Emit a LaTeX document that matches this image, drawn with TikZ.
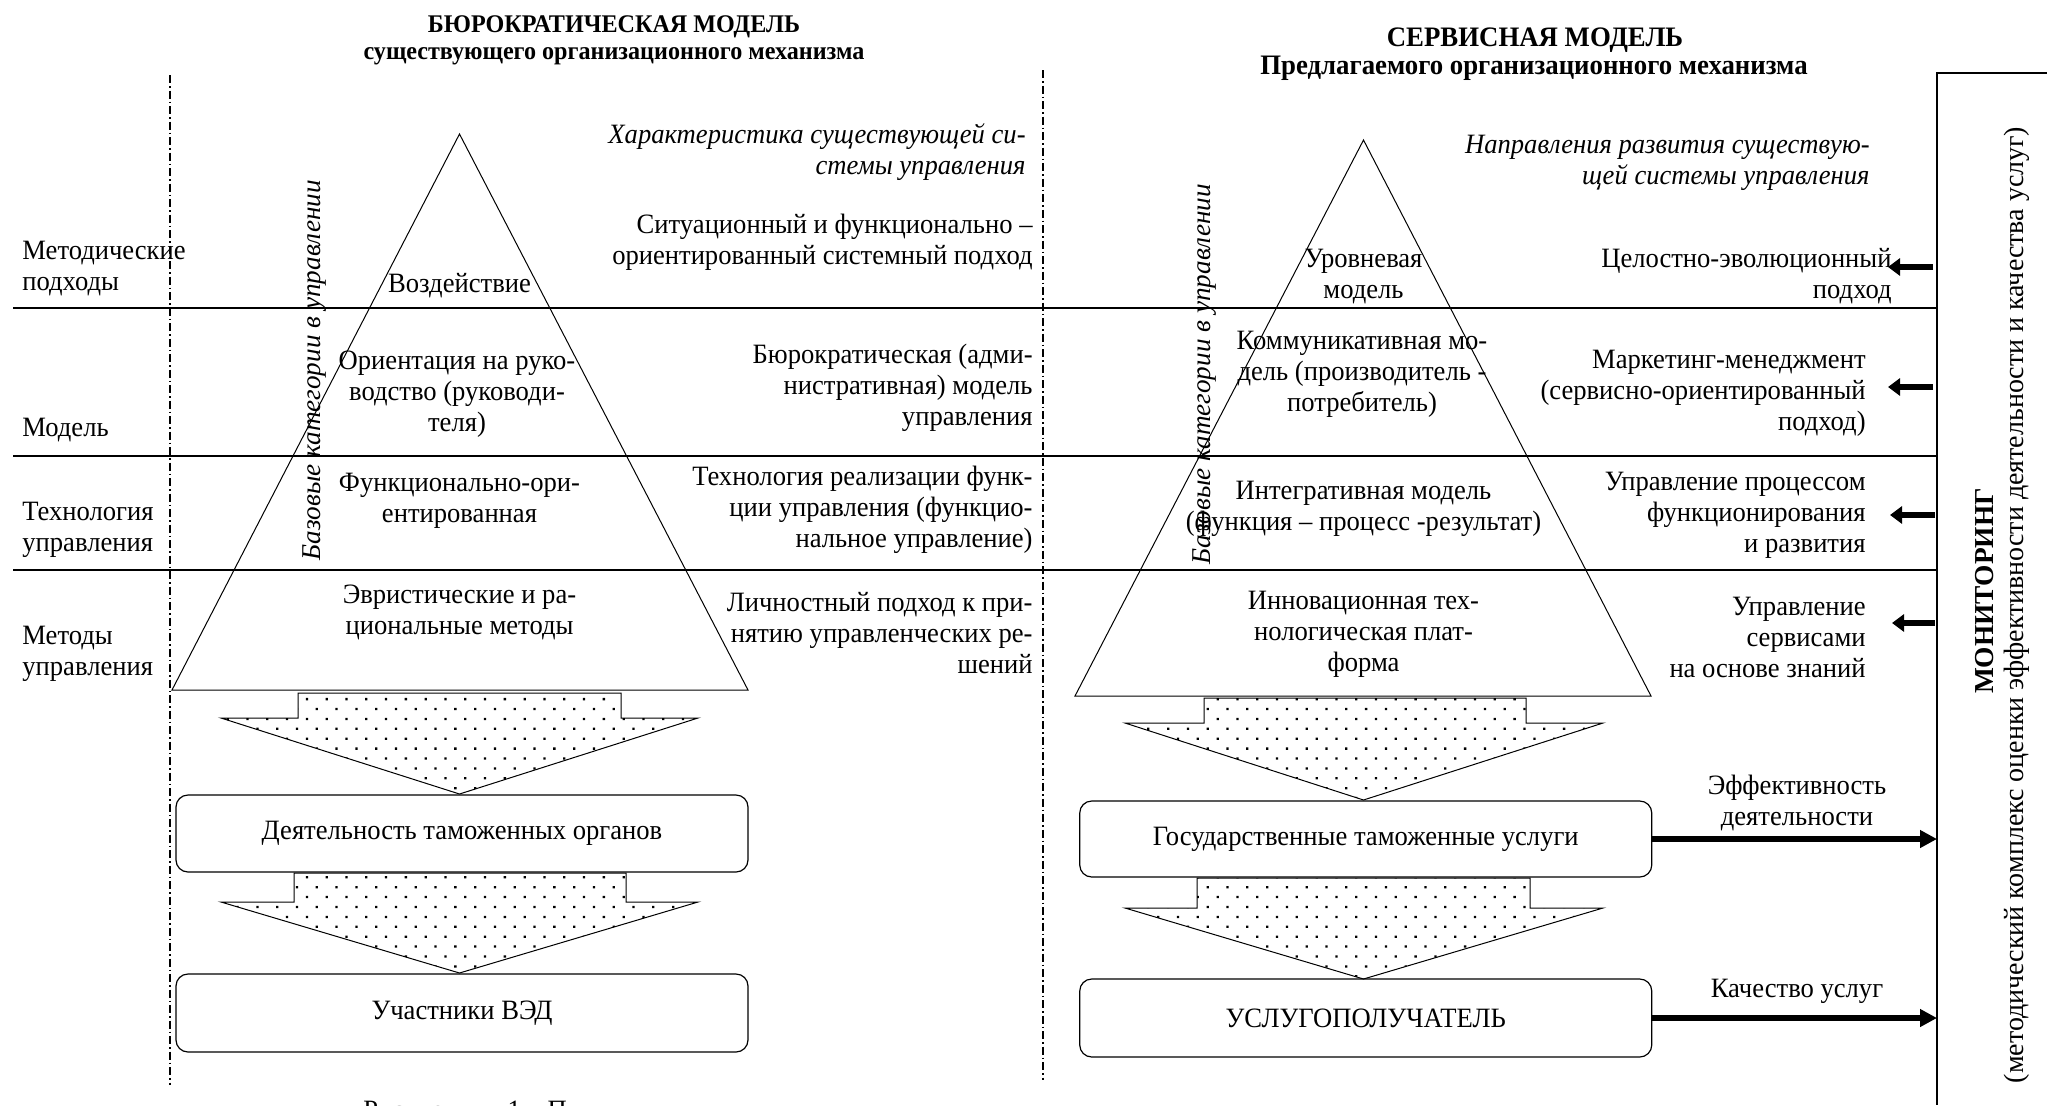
\documentclass[tikz,border=0pt]{standalone}
\usepackage{fontspec}
\setmainfont{Liberation Serif}[FakeStretch=0.95]
\newfontfamily\plainserif{Liberation Serif}
\usetikzlibrary{patterns.meta,arrows.meta}
\begin{document}
\begin{tikzpicture}[x=0.5pt,y=-0.5pt,
  txt/.style={font=\fontsize{14}{15.5}\selectfont, inner sep=0pt, align=center},
  rtxt/.style={txt, align=right, anchor=east},
  ltxt/.style={txt, align=left, anchor=west},
  itxt/.style={rtxt, font=\fontsize{14}{15.5}\selectfont\itshape},
  rottxt/.style={inner sep=0pt, align=center, rotate=90},
  sepline/.style={line width=0.7pt},
  dashdot/.style={line width=0.6pt, dash pattern=on 4pt off 1.5pt on 0.75pt off 1.5pt},
  pyr/.style={line width=0.5pt},
  blockarrow/.style={draw, line width=0.5pt, pattern={Dots[distance=7pt, radius=0.8pt, angle=45]}},
  roundbox/.style={txt, draw, line width=0.6pt, rounded corners=6pt, minimum width=286pt},
  thickarrow/.style={line width=3pt, -{Triangle[length=8.5pt,width=8.5pt]}},
  smallarrow/.style={line width=3pt, -{Triangle[length=6pt,width=8.5pt]}},
]
\clip (0,0) rectangle (2047,1105);

% titles
\node[txt, font=\fontsize{12.7}{15}\selectfont\bfseries] (t1) at (614,27) {БЮРОКРАТИЧЕСКАЯ МОДЕЛЬ};
\node[txt, font=\fontsize{12.7}{15}\selectfont\bfseries] (t2) at (614,56) {существующего организационного механизма};
\node[txt, font=\fontsize{14.1}{16}\selectfont\bfseries] (t3) at (1535,40) {СЕРВИСНАЯ МОДЕЛЬ};
\node[txt, font=\fontsize{14.1}{16}\selectfont\bfseries] (t4) at (1534,68) {Предлагаемого организационного механизма};

% dash-dot verticals
\coordinate (dl1) at (170,75);  \coordinate (dl2) at (170,1085);
\coordinate (dr1) at (1043,70); \coordinate (dr2) at (1043,1080);
\draw[dashdot] (dl1) -- (dl2);
\draw[dashdot] (dr1) -- (dr2);

% monitoring frame
\coordinate (mA) at (2047,73);
\coordinate (mB) at (1937,73);
\coordinate (mC) at (1937,1105);
\draw[line width=0.6pt] (mA) -- (mB) -- (mC);

% pyramids
\coordinate (LA) at (459.5,134); \coordinate (LL) at (172,690); \coordinate (LR) at (748,690);
\coordinate (RA) at (1363.5,140); \coordinate (RL) at (1075,696); \coordinate (RR) at (1651,696);
\draw[pyr] (LA) -- (LR) -- (LL) -- cycle;
\draw[pyr] (RA) -- (RR) -- (RL) -- cycle;

% horizontal separators
\coordinate (h1a) at (13,308); \coordinate (h2a) at (13,456); \coordinate (h3a) at (13,570);
\draw[sepline] (h1a) -- (h1a -| mB);
\draw[sepline] (h2a) -- (h2a -| mB);
\draw[sepline] (h3a) -- (h3a -| mB);

% block arrows (dotted)
\draw[blockarrow] (298,693) -- (621,693) -- (621,718) -- (698,718) -- (459.5,794) -- (221,718) -- (298,718) -- cycle;
\draw[blockarrow] (294,873) -- (626,873) -- (626,902) -- (698,902) -- (459.5,973) -- (221,902) -- (294,902) -- cycle;
\draw[blockarrow] (1204,698) -- (1526,698) -- (1526,723) -- (1603,723) -- (1363.5,800) -- (1125,723) -- (1204,723) -- cycle;
\draw[blockarrow] (1197,878) -- (1530,878) -- (1530,908) -- (1603,908) -- (1363.5,979) -- (1125,908) -- (1197,908) -- cycle;

% boxes
\node[roundbox, minimum height=38.5pt] (b1) at (462,833.5) {Деятельность таможенных органов};
\node[roundbox, minimum height=39pt] (b2) at (462,1013) {Участники ВЭД};
\node[roundbox, minimum height=38pt] (b3) at (1365.75,839) {Государственные таможенные услуги};
\node[roundbox, minimum height=39pt] (b4) at (1365.75,1018) {УСЛУГОПОЛУЧАТЕЛЬ};

% output arrows to monitoring
\draw[thickarrow] (b3.east) -- (b3.east -| mB);
\draw[thickarrow] (b4.east) -- (b4.east -| mB);
\node[txt] (e1) at (1797,803) {Эффективность\\деятельности};
\node[txt] (e2) at (1797,991) {Качество услуг};

% left category labels
\node[ltxt] (c1) at (22,269) {Методические\\подходы};
\node[ltxt] (c2) at (22,430) {Модель};
\node[ltxt] (c3) at (22,530) {Технология\\управления};
\node[ltxt] (c4) at (22,654) {Методы\\управления};

% rotated italic labels
\node[rottxt, font=\plainserif\fontsize{13.6}{15.5}\selectfont\itshape] (k1) at (315,370) {Базовые категории в управлении};
\node[rottxt, font=\plainserif\fontsize{13.6}{15.5}\selectfont\itshape] (k2) at (1205,374) {Базовые категории в управлении};

% left pyramid texts
\node[txt] (p1) at (459.5,286) {Воздействие};
\node[txt] (p2) at (457,394) {Ориентация на руко-\\водство (руководи-\\теля)};
\node[txt] (p3) at (459.5,501) {Функционально-ори-\\ентированная};
\node[txt] (p4) at (459.5,612) {Эвристические и ра-\\циональные методы};

% left characteristics column
\node[itxt] (q0) at (1026,152) {Характеристика существующей си-\\стемы управления};
\node[rtxt] (q1) at (1033,242) {Ситуационный и функционально –\\ориентированный системный подход};
\node[rtxt] (q2) at (1033,388) {Бюрократическая (адми-\\нистративная) модель\\управления};
\node[rtxt] (q3) at (1033,510) {Технология реализации функ-\\ции управления (функцио-\\нальное управление)};
\node[rtxt] (q4) at (1033,633) {Личностный подход к при-\\нятию управленческих ре-\\шений};

% right pyramid texts
\node[txt] (r1) at (1363.5,277) {Уровневая\\модель};
\node[txt] (r2) at (1362,374) {Коммуникативная мо-\\дель (производитель -\\потребитель)};
\node[txt] (r3) at (1363.5,509) {Интегративная модель\\(функция – процесс -результат)};
\node[txt] (r4) at (1363.5,634) {Инновационная тех-\\нологическая плат-\\форма};

% right directions column
\node[itxt] (s0) at (1870,163) {Направления развития существую-\\щей системы управления};
\node[rtxt] (s1) at (1892,276) {Целостно-эволюционный\\подход};
\node[rtxt] (s2) at (1866,393) {Маркетинг-менеджмент\\(сервисно-ориентированный\\подход)};
\node[rtxt] (s3) at (1866,515) {Управление процессом\\функционирования\\и развития};
\node[rtxt] (s4) at (1866,637) {Управление\\сервисами\\на основе знаний};

% small arrows from monitoring
\coordinate (a1) at (1933,267); \coordinate (a2) at (1933,387);
\coordinate (a3) at (1935,515); \coordinate (a4) at (1935,623);
\draw[smallarrow] (a1) -- ++(-45,0);
\draw[smallarrow] (a2) -- ++(-45,0);
\draw[smallarrow] (a3) -- ++(-45,0);
\draw[smallarrow] (a4) -- ++(-43,0);

% monitoring texts
\node[rottxt, font=\plainserif\fontsize{13.7}{15.5}\selectfont\bfseries] (m1) at (1985,591) {МОНИТОРИНГ};
\node[rottxt, font=\plainserif\fontsize{14}{15.5}\selectfont] (m2) at (2017,605) {(методический комплекс оценки эффективности деятельности и качества услуг)};

% caption (cut off at the bottom edge)
\node[txt, anchor=north west] (cap) at (363,1101) {Рисунок\hspace{25pt}1 – П};
\end{tikzpicture}
\end{document}
